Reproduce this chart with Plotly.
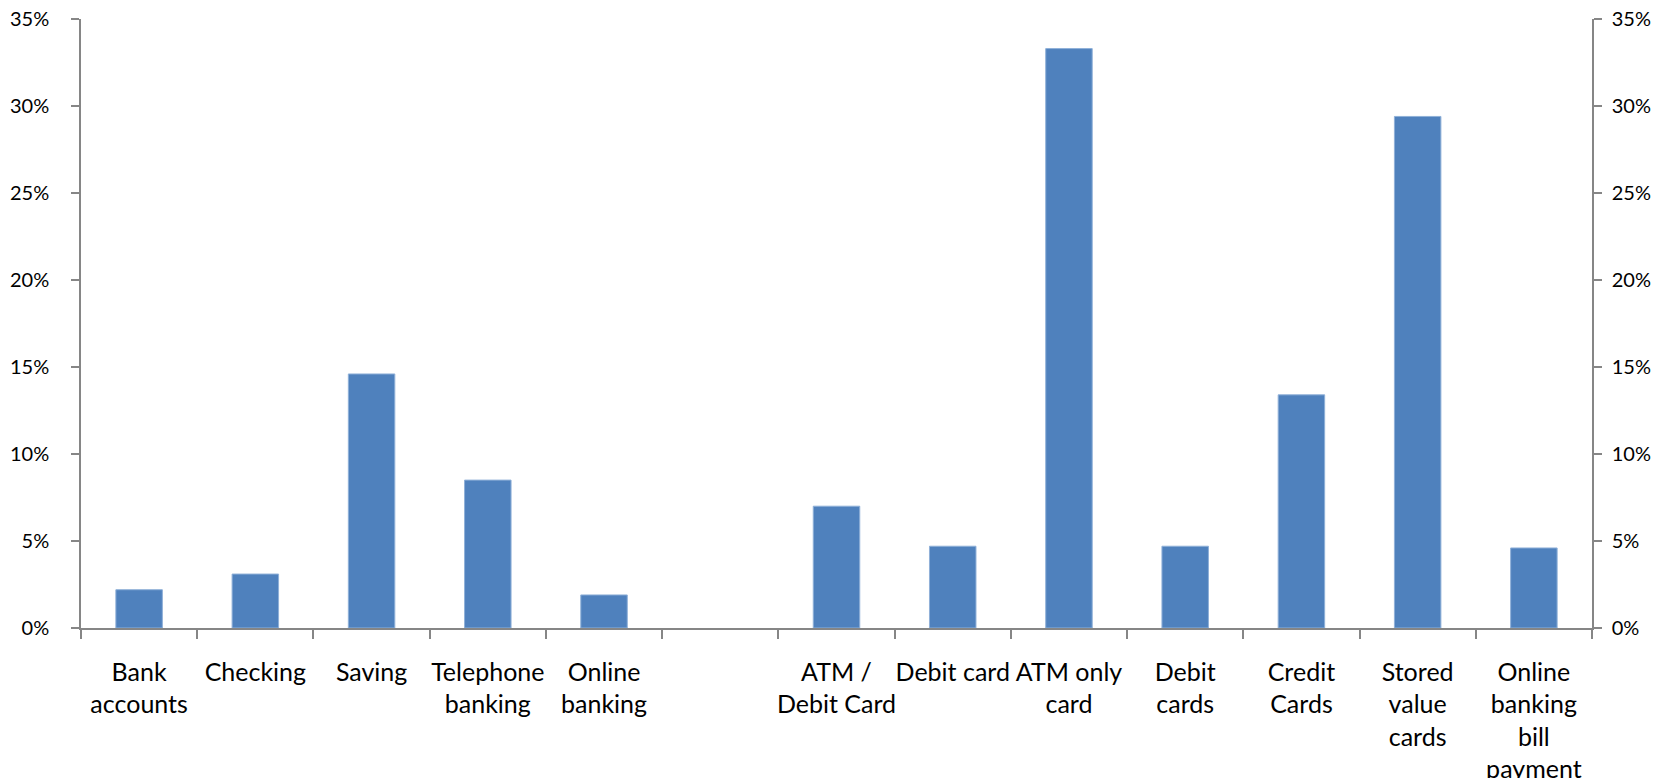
import plotly.graph_objects as go

categories = [
    "Bank<br>accounts", "Checking", "Saving", "Telephone<br>banking", "Online<br>banking",
    " ",
    "ATM /<br>Debit Card", "Debit card", "ATM only<br>card", "Debit<br>cards",
    "Credit<br>Cards", "Stored<br>value<br>cards", "Online<br>banking<br>bill<br>payment",
]
values = [0.022, 0.031, 0.146, 0.085, 0.019, None,
          0.070, 0.047, 0.333, 0.047, 0.134, 0.294, 0.046]
y_ticks = [0, 0.05, 0.10, 0.15, 0.20, 0.25, 0.30, 0.35]

AXIS_COLOR = "#868686"

fig = go.Figure()
fig.add_trace(go.Bar(
    x=categories, y=values,
    marker=dict(color="#4F81BD", line=dict(color="#8fb0d8", width=1)),
    width=0.4, showlegend=False, hoverinfo="skip",
))
# invisible companion trace so the right-hand axis is drawn
fig.add_trace(go.Scatter(
    x=categories, y=values, yaxis="y2", mode="markers",
    marker=dict(opacity=0), showlegend=False, hoverinfo="skip",
))

fig.update_layout(
    width=1677, height=778,
    margin=dict(l=81, r=85, t=19, b=150, autoexpand=False),
    plot_bgcolor="white", paper_bgcolor="white",
    xaxis=dict(
        type="category", range=[-0.5, 12.5], tickangle=0, automargin=False,
        showline=True, linecolor=AXIS_COLOR, linewidth=1.5,
        ticks="outside", tickson="boundaries", ticklen=9, tickcolor=AXIS_COLOR, tickwidth=1.5,
        tickfont=dict(family="Lato", size=25, color="black"),
        showgrid=False, zeroline=False, ticklabelstandoff=21,
    ),
    yaxis=dict(
        range=[0, 0.35], tickvals=y_ticks, tickformat=".0%", automargin=False,
        showline=True, linecolor=AXIS_COLOR, linewidth=1.5,
        ticks="outside", ticklen=8, tickcolor=AXIS_COLOR, tickwidth=1.5,
        tickfont=dict(family="Lato", size=20, color="black"),
        showgrid=False, zeroline=False, ticklabelstandoff=18,
    ),
    yaxis2=dict(
        range=[0, 0.35], tickvals=y_ticks, tickformat=".0%", automargin=False,
        overlaying="y", side="right", anchor="x",
        showline=True, linecolor=AXIS_COLOR, linewidth=1.5,
        ticks="outside", ticklen=8, tickcolor=AXIS_COLOR, tickwidth=1.5,
        tickfont=dict(family="Lato", size=20, color="black"),
        showgrid=False, zeroline=False, ticklabelstandoff=6,
    ),
)

fig.write_html("out.html")
